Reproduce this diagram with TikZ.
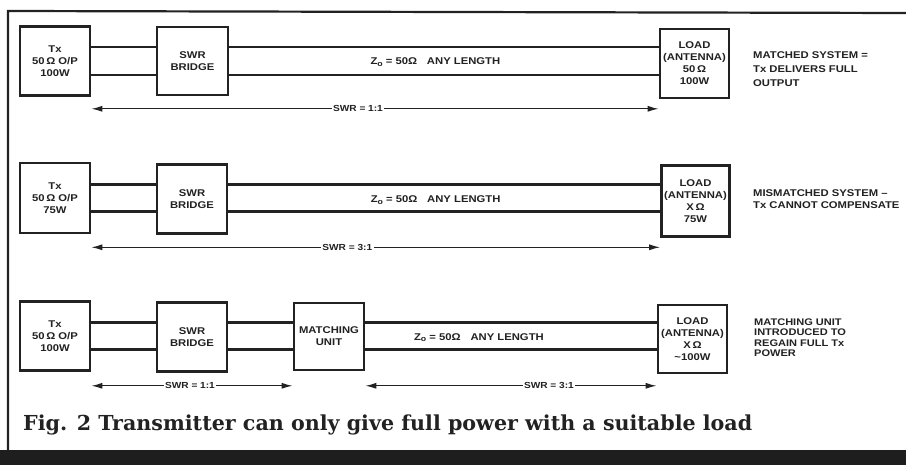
\documentclass[tikz,border=0pt]{standalone}
\usepackage{fontspec}
\usepackage{graphicx}
\usetikzlibrary{arrows.meta,calc}
\newfontfamily\lab{Liberation Sans}[FakeStretch=1.15]
\newfontfamily\capfont{DejaVu Serif}
\definecolor{ink}{HTML}{222222}
\definecolor{band}{HTML}{1E1E1E}
\newcommand{\zsub}{Z\raisebox{-1.6pt}{\fontsize{7.6}{8}\selectfont o}}
\begin{document}
\begin{tikzpicture}[x=1pt,y=-1pt,
  box/.style={draw=ink, line width=2.6pt, inner sep=0pt, minimum width=70pt, minimum height=69pt,
    align=center, text=ink, font=\lab\bfseries\fontsize{9.8}{12}\selectfont},
  wire/.style={draw=ink, line width=2.1pt},
  dim/.style={draw=ink, line width=1.3pt, {Latex[length=11pt,width=6pt]}-{Latex[length=11pt,width=6pt]}},
  lbl/.style={fill=white, inner sep=1.5pt, text=ink, font=\lab\bfseries\fontsize{8.8}{10}\selectfont},
  zlbl/.style={inner sep=0pt, text=ink, font=\lab\bfseries\fontsize{9.8}{10}\selectfont},
  note/.style={anchor=west, align=left, inner sep=0pt, text=ink, font=\lab\bfseries\fontsize{9.8}{14}\selectfont}]
\useasboundingbox (0,0) rectangle (906,465);
\fill[white] (0,0) rectangle (906,465);
\fill[band] (0,450) rectangle (906,465);
\draw[ink, line width=2.2pt] (8,450) -- (8,11) -- (906,13);

% ---------- row 1
\node[box] (tx1) at (55,61) {Tx\\50\,Ω O/P\\100W};
\node[box, minimum width=71pt, minimum height=68pt] (swr1) at (192.5,61) {SWR\\BRIDGE};
\node[box, minimum width=69pt] (load1) at (694.5,63.5) {LOAD\\(ANTENNA)\\50\,Ω\\100W};
\coordinate (r1u) at ([yshift=14pt]tx1.east);
\coordinate (r1d) at ([yshift=-14pt]tx1.east);
\draw[wire] (r1u) -- (r1u -| swr1.west);
\draw[wire] (r1d) -- (r1d -| swr1.west);
\draw[wire] (r1u -| swr1.east) -- (r1u -| load1.west);
\draw[wire] (r1d -| swr1.east) -- (r1d -| load1.west);
\node[zlbl] (z1) at ($(swr1.east)!0.48!(load1.west)$) {\zsub{} = 50Ω\quad ANY LENGTH};
\coordinate (d1l) at ([yshift=-12pt]tx1.south east);
\coordinate (d1r) at (d1l -| load1.west);
\draw[dim] (d1l) -- node[lbl,pos=0.47] (s1) {SWR = 1:1} (d1r);
\node[note] (n1) at (753,69.5) {MATCHED SYSTEM =\\Tx DELIVERS FULL\\OUTPUT};

% ---------- row 2
\node[box, minimum height=70pt] (tx2) at (55,198) {Tx\\50\,Ω O/P\\75W};
\node[box] (swr2) at (192,199) {SWR\\BRIDGE};
\node[box, minimum width=68pt, minimum height=71pt] (load2) at (695.5,201) {LOAD\\(ANTENNA)\\X\,Ω\\75W};
\coordinate (r2u) at ([yshift=13.5pt]tx2.east);
\coordinate (r2d) at ([yshift=-13.5pt]tx2.east);
\draw[wire] (r2u) -- (r2u -| swr2.west);
\draw[wire] (r2d) -- (r2d -| swr2.west);
\draw[wire] (r2u -| swr2.east) -- (r2u -| load2.west);
\draw[wire] (r2d -| swr2.east) -- (r2d -| load2.west);
\node[zlbl] (z2) at ($(swr2.east)!0.48!(load2.west)$) {\zsub{} = 50Ω\quad ANY LENGTH};
\coordinate (d2l) at ([yshift=-13pt]tx2.south east);
\coordinate (d2r) at (d2l -| load2.west);
\draw[dim] (d2l) -- node[lbl,pos=0.45] (s2) {SWR = 3:1} (d2r);
\node[note, font=\lab\bfseries\fontsize{9.8}{12}\selectfont] (n2) at (753,199) {MISMATCHED SYSTEM –\\Tx CANNOT COMPENSATE};

% ---------- row 3
\node[box] (tx3) at (55,336) {Tx\\50\,Ω O/P\\100W};
\node[box] (swr3) at (192,337) {SWR\\BRIDGE};
\node[box, minimum height=67pt] (match3) at (329,336.5) {MATCHING\\UNIT};
\node[box, minimum width=69pt, minimum height=68pt] (load3) at (692.5,339) {LOAD\\(ANTENNA)\\X\,Ω\\\textasciitilde100W};
\coordinate (r3u) at ([yshift=13.5pt]tx3.east);
\coordinate (r3d) at ([yshift=-13.5pt]tx3.east);
\draw[wire] (r3u) -- (r3u -| swr3.west);
\draw[wire] (r3d) -- (r3d -| swr3.west);
\draw[wire] (r3u -| swr3.east) -- (r3u -| match3.west);
\draw[wire] (r3d -| swr3.east) -- (r3d -| match3.west);
\draw[wire] (r3u -| match3.east) -- (r3u -| load3.west);
\draw[wire] (r3d -| match3.east) -- (r3d -| load3.west);
\node[zlbl] (z3) at ($(match3.east)!0.39!(load3.west)$) {\zsub{} = 50Ω\quad ANY LENGTH};
\coordinate (d3l) at ([yshift=-14pt]tx3.south east);
\coordinate (d3m) at (d3l -| match3.west);
\coordinate (d3n) at (d3l -| match3.east);
\coordinate (d3r) at (d3l -| load3.west);
\draw[dim] (d3l) -- node[lbl,pos=0.49] (s3a) {SWR = 1:1} (d3m);
\draw[dim] (d3n) -- node[lbl,pos=0.63] (s3b) {SWR = 3:1} (d3r);
\node[note, font=\lab\bfseries\fontsize{9.6}{10.5}\selectfont] (n3) at (754,337.5) {MATCHING UNIT\\INTRODUCED TO\\REGAIN FULL Tx\\POWER};

% ---------- caption
\node[anchor=base west, inner sep=0pt, text=ink] (cap) at (23,431)
  {\resizebox{729pt}{!}{\capfont\bfseries Fig. 2 Transmitter can only give full power with a suitable load}};
\end{tikzpicture}
\end{document}
